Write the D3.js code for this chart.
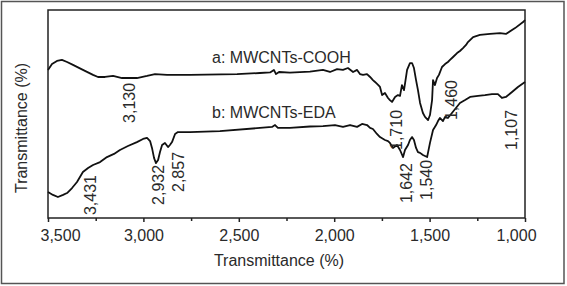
<!DOCTYPE html>
<html><head><meta charset="utf-8">
<script src="https://cdn.jsdelivr.net/npm/d3@7"></script>
<style>html,body{margin:0;padding:0;background:#fff;}svg{display:block;font-family:"Liberation Sans",Arial,sans-serif;}</style>
</head><body>
<script>
// Wavenumber (cm^-1) and transmittance (arbitrary %, offset)
const wnA = [3500,3479,3453,3427,3400,3369,3317,3264,3238,3201,3159,3112,3034,2981,2939,2876,2756,2509,2389,2336,2316,2305,2289,2232,2127,2059,2022,1985,1954,1928,1901,1880,1865,1849,1828,1812,1797,1786,1770,1760,1749,1734,1718,1708,1697,1681,1666,1655,1645,1634,1618,1603,1592,1582,1571,1561,1550,1535,1524,1508,1498,1487,1482,1472,1461,1451,1435,1419,1404,1393,1377,1356,1341,1325,1309,1299,1272,1236,1183,1131,1100,1052,1010,1000];
const tA = [71.2,74.0,75.5,76.0,75.0,73.6,71.2,68.8,67.8,67.8,68.3,67.3,67.3,68.3,69.2,68.8,68.8,69.2,69.7,70.0,71.2,69.2,70.2,69.9,70.4,71.2,70.2,71.6,71.2,72.1,70.2,71.2,69.2,68.8,69.2,67.8,66.3,65.4,64.0,63.0,59.1,60.1,57.7,56.7,55.8,58.2,59.1,58.7,63.9,61.5,71.2,74.5,74.5,72.1,66.3,61.5,55.3,50.5,48.6,47.1,49.5,56.7,66.3,63.9,67.3,68.8,72.6,74.0,75.0,76.0,77.4,79.3,80.3,81.7,83.2,84.6,87.0,88.0,88.5,88.9,88.5,91.3,94.2,95.2];
const wnB = [3500,3474,3448,3421,3400,3374,3348,3317,3290,3264,3227,3191,3154,3123,3081,3034,3002,2981,2965,2955,2944,2934,2923,2913,2902,2887,2871,2861,2850,2834,2819,2756,2599,2389,2326,2310,2295,2232,2127,2059,1996,1954,1917,1880,1854,1828,1812,1797,1776,1760,1734,1718,1708,1692,1671,1655,1639,1629,1613,1603,1592,1582,1571,1561,1550,1535,1524,1513,1498,1482,1466,1456,1446,1430,1419,1404,1383,1362,1341,1314,1288,1246,1210,1173,1142,1121,1100,1068,1037,1000];
const tB = [12.5,11.1,10.1,11.1,12.0,14.4,17.3,22.1,24.0,25.5,26.9,29.3,30.8,32.7,34.6,36.5,38.0,38.5,37.0,33.7,28.8,26.4,27.9,31.7,35.1,36.1,34.1,35.1,36.5,40.4,41.3,41.3,41.8,43.3,43.8,44.7,43.3,43.3,44.0,44.2,44.7,43.8,44.7,43.8,45.2,44.7,43.3,42.8,40.4,38.9,37.5,37.0,36.1,33.7,35.1,32.7,29.3,32.7,35.1,37.5,38.9,37.5,33.7,31.7,31.3,30.3,29.8,29.3,36.1,42.3,44.7,46.6,48.1,46.6,48.6,48.1,50.5,52.9,55.3,56.7,58.2,58.7,59.1,59.6,59.6,57.7,58.2,60.6,63.0,65.4];
const majorTicks = [3500,3000,2500,2000,1500,1000];
const minorTicks = [3250,2750,2250,1750,1250];
const peakLabels = ["3,130","1,710","1,460","1,107","3,431","2,932","2,857","1,642","1,540"];
const peakWn = [3075,1676,1388,1073,3280,2923,2819,1624,1519];
const peakT = [45.7,32.7,47.1,32.7,1.4,6.3,12.5,7.2,8.7];
const seriesNames = ["a: MWCNTs-COOH","b: MWCNTs-EDA"];
const nameWn = [2640,2640];
const nameT = [74.5,48.1];
const xTitle = "Transmittance (%)";
const yTitle = "Transmittance (%)";

const W=567,H=286;
const m={left:48,right:525,top:10,bottom:218};
const svg=d3.select("body").append("svg").attr("width",W).attr("height",H);
svg.append("rect").attr("x",1.5).attr("y",1.5).attr("width",562.5).attr("height",282).attr("fill","#fff").attr("stroke","#555").attr("stroke-width",1.5);

const x=d3.scaleLinear().domain([3500,1000]).range([m.left,m.right]);
const y=d3.scaleLinear().domain([0,100]).range([m.bottom,m.bottom-208]);

const txt="#2a2a2a";
// axis
const ax=svg.append("g").attr("transform",`translate(0,${m.bottom})`)
  .call(d3.axisBottom(x).tickValues(majorTicks).tickSize(4).tickPadding(8).tickFormat(d3.format(",")));
ax.select(".domain").remove();
ax.selectAll("line").attr("stroke","#222").attr("stroke-width",1.5);
ax.selectAll("text").attr("font-size",16).attr("fill",txt).attr("font-family","Liberation Sans, Arial, sans-serif")
  .attr("dx",d=>d===3500?12:(d===1000?-9:0));
const axm=svg.append("g").attr("transform",`translate(0,${m.bottom})`)
  .call(d3.axisBottom(x).tickValues(minorTicks).tickSize(3).tickFormat(""));
axm.select(".domain").remove();
axm.selectAll("line").attr("stroke","#222").attr("stroke-width",1.5);

// plot frame
svg.append("rect").attr("x",m.left).attr("y",m.top).attr("width",m.right-m.left).attr("height",m.bottom-m.top)
  .attr("fill","none").attr("stroke","#222").attr("stroke-width",1.5);

const line=d3.line().x(d=>x(d[0])).y(d=>y(d[1]));
[[wnA,tA],[wnB,tB]].forEach(([w,t])=>{
  svg.append("path").datum(w.map((v,i)=>[v,t[i]])).attr("d",line)
    .attr("fill","none").attr("stroke","#111").attr("stroke-width",1.8).attr("stroke-linejoin","round");
});

// series names
seriesNames.forEach((s,i)=>{
  svg.append("text").attr("x",x(nameWn[i])).attr("y",y(nameT[i])).attr("font-size",16).attr("fill",txt).text(s);
});
// peak labels
peakLabels.forEach((s,i)=>{
  const px=x(peakWn[i]),py=y(peakT[i]);
  svg.append("text").attr("transform",`translate(${px},${py}) rotate(-90)`).attr("dy","0.35em")
    .attr("font-size",16).attr("fill",txt).text(s);
});
// titles
svg.append("text").attr("x",279).attr("y",266).attr("text-anchor","middle").attr("font-size",16).attr("fill",txt).text(xTitle);
svg.append("text").attr("transform","translate(27,128) rotate(-90)").attr("text-anchor","middle").attr("font-size",16).attr("fill",txt).text(yTitle);
</script>
</body></html>
